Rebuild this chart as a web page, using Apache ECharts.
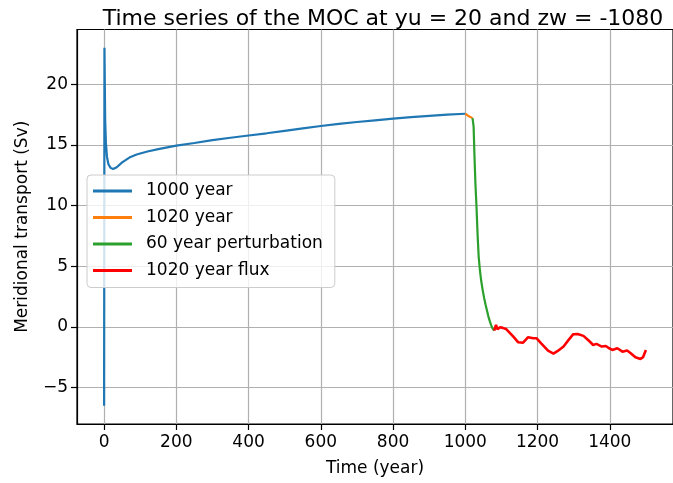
<!DOCTYPE html>
<html>
<head>
<meta charset="utf-8">
<script src="https://cdn.jsdelivr.net/npm/echarts@6/dist/echarts.min.js"></script>
<style>html,body{margin:0;padding:0;background:#fff}#c{width:673px;height:483px}</style>
</head>
<body>
<div id="c"></div>
<script>
const xTicks = [0, 200, 400, 600, 800, 1000, 1200, 1400];
const yTicks = [-5, 0, 5, 10, 15, 20];

const run1000 = [
  [0,-6.5],[1,23.0],[3,17.0],[5,15.2],[8,14.0],[12,13.4],[18,13.1],[25,13.0],[35,13.15],
  [50,13.55],[70,13.95],[90,14.2],[120,14.45],[150,14.65],[200,14.93],[250,15.15],
  [300,15.38],[350,15.58],[400,15.77],[450,15.95],[500,16.15],[550,16.35],[600,16.55],
  [650,16.72],[700,16.88],[750,17.02],[800,17.16],[850,17.28],[900,17.38],[950,17.48],[1000,17.56]
];
const run1020 = [[1000,17.56],[1005,17.45],[1010,17.35],[1015,17.25],[1020,17.2]];
const pert60 = [
  [1020,17.2],[1022,17.15],[1023,16.5],[1024,15.5],[1025.5,14.0],[1028,11.8],[1031,9.9],
  [1034,7.6],[1037,5.8],[1040,4.8],[1044,3.8],[1048,3.05],[1052,2.4],[1056,1.85],
  [1060,1.35],[1064,0.85],[1068,0.45],[1072,0.1],[1076,-0.15],[1080,-0.3]
];
const flux1020 = [
  [1080,-0.3],[1085,0.17],[1089,-0.2],[1096,-0.03],[1104,-0.08],[1114,-0.2],[1133,-0.8],
  [1146,-1.26],[1160,-1.3],[1174,-0.85],[1188,-0.93],[1197,-0.93],[1210,-1.35],[1229,-1.95],
  [1244,-2.2],[1256,-1.98],[1272,-1.62],[1286,-1.07],[1299,-0.6],[1311,-0.58],[1327,-0.74],
  [1343,-1.16],[1354,-1.49],[1363,-1.4],[1378,-1.62],[1389,-1.57],[1398,-1.76],[1407,-1.9],
  [1421,-1.76],[1435,-2.04],[1448,-1.95],[1458,-2.17],[1471,-2.5],[1485,-2.64],[1492,-2.5],[1500,-1.9]
];

const FONT = 'DejaVu Sans';
const chart = echarts.init(document.getElementById('c'), null, {renderer: 'canvas'});
const mk = (name, data, color, w) => ({
  name, type: 'line', data, showSymbol: false, symbol: 'none',
  lineStyle: {color, width: w}, itemStyle: {color}, z: 3
});
chart.setOption({
  animation: false,
  backgroundColor: '#fff',
  title: {
    text: 'Time series of the MOC at yu = 20 and zw = -1080',
    left: 378, top: 3, textAlign: 'center',
    textStyle: {fontFamily: FONT, fontSize: 22, fontWeight: 'normal', color: '#000'}
  },
  grid: {left: 77, top: 29.5, width: 601, height: 394.5, containLabel: false,
    show: true, borderColor: '#000', borderWidth: 1.2, backgroundColor: 'transparent'},
  legend: {
    orient: 'vertical', left: 87, top: 175,
    data: ['1000 year', '1020 year', '60 year perturbation', '1020 year flux'],
    icon: 'rect', itemWidth: 39, itemHeight: 3, itemGap: 6.5,
    padding: [6, 12, 7, 6],
    backgroundColor: 'rgba(255,255,255,0.8)', borderColor: '#cccccc', borderWidth: 1, borderRadius: 4,
    textStyle: {fontFamily: FONT, fontSize: 17, color: '#000', lineHeight: 20, padding: [0, 0, 0, 9]}
  },
  xAxis: {
    type: 'value', min: -75, max: 1575,
    name: 'Time (year)', nameLocation: 'middle', nameGap: 36,
    nameTextStyle: {fontFamily: FONT, fontSize: 17, color: '#000'},
    axisLine: {onZero: false, lineStyle: {color: '#000', width: 1.2}},
    axisTick: {show: true, length: 6, lineStyle: {color: '#000', width: 1.2}, customValues: xTicks},
    axisLabel: {fontFamily: FONT, fontSize: 17, color: '#000', margin: 10, customValues: xTicks,
      formatter: v => String(v)},
    splitLine: {show: true, lineStyle: {color: '#b0b0b0', width: 1.2}}
  },
  yAxis: {
    type: 'value', min: -8.0, max: 24.5,
    name: 'Meridional transport (Sv)', nameLocation: 'middle', nameRotate: 90, nameGap: 46,
    nameTextStyle: {fontFamily: FONT, fontSize: 17, color: '#000'},
    axisLine: {onZero: false, lineStyle: {color: '#000', width: 1.2}},
    axisTick: {show: true, length: 6, lineStyle: {color: '#000', width: 1.2}, customValues: yTicks},
    axisLabel: {fontFamily: FONT, fontSize: 17, color: '#000', margin: 9, customValues: yTicks,
      formatter: v => String(v).replace('-', '\u2212')},
    splitLine: {show: true, lineStyle: {color: '#b0b0b0', width: 1.2}}
  },
  series: [
    mk('1000 year', run1000, '#1f77b4', 2.2),
    mk('1020 year', run1020, '#ff7f0e', 2.2),
    mk('60 year perturbation', pert60, '#2ca02c', 2.2),
    mk('1020 year flux', flux1020, '#ff0000', 2.6)
  ]
});
</script>
</body>
</html>
